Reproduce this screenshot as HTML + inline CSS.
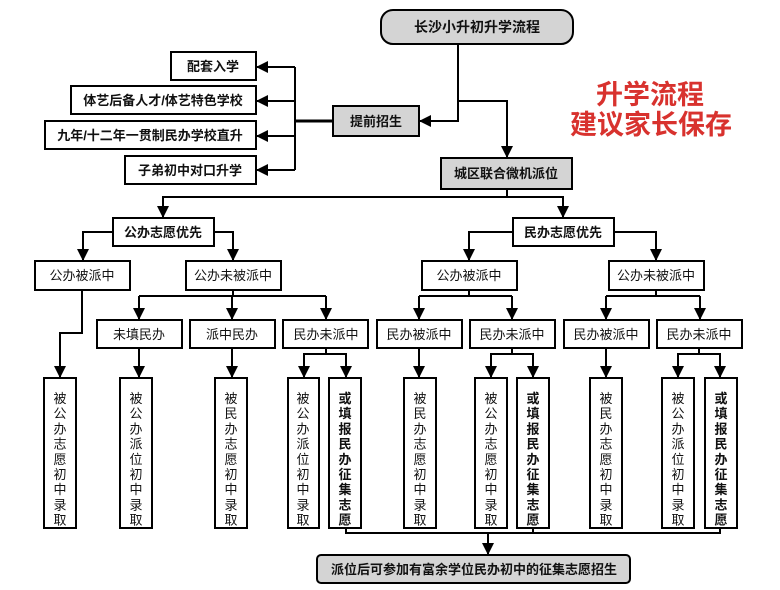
<!DOCTYPE html>
<html><head><meta charset="utf-8"><style>
html,body{margin:0;padding:0;background:#fff;}
svg{display:block;}
text{font-family:"Liberation Sans","Noto Sans CJK SC",sans-serif;fill:#111;}
</style></head><body>
<svg width="780" height="590" viewBox="0 0 780 590" xmlns="http://www.w3.org/2000/svg">
<defs>
<marker id="b" markerWidth="12" markerHeight="12" refX="11" refY="6" orient="auto" markerUnits="userSpaceOnUse">
<path d="M0,0 L12,6 L0,12 Z" fill="#000"/></marker>
</defs>
<g stroke="#000" stroke-width="2" fill="none">
<polyline points="458,44 458,121 420,121" marker-end="url(#b)"/>
<polyline points="458,101 507,101 507,157" marker-end="url(#b)"/>
<line x1="295" y1="121" x2="333" y2="121" stroke-width="3"/>
<line x1="295" y1="67" x2="295" y2="170"/>
<line x1="295" y1="67" x2="257" y2="67" marker-end="url(#b)"/>
<line x1="295" y1="101" x2="257" y2="101" marker-end="url(#b)"/>
<line x1="295" y1="136" x2="257" y2="136" marker-end="url(#b)"/>
<line x1="295" y1="170" x2="257" y2="170" marker-end="url(#b)"/>
<polyline points="507,189 507,197"/>
<polyline points="163,217 163,197 563,197 563,217"/>
<line x1="163" y1="205" x2="163" y2="217" marker-end="url(#b)"/>
<line x1="563" y1="205" x2="563" y2="217" marker-end="url(#b)"/>
<polyline points="113,232 83,232 83,260" marker-end="url(#b)"/>
<polyline points="214,232 233,232 233,260" marker-end="url(#b)"/>
<polyline points="513,232 469,232 469,260" marker-end="url(#b)"/>
<polyline points="614,232 656,232 656,260" marker-end="url(#b)"/>
<polyline points="82,290 82,333 60,333 60,377" marker-end="url(#b)"/>
<polyline points="233,290 233,296"/>
<polyline points="139,296 326,296"/>
<line x1="139" y1="296" x2="139" y2="319" marker-end="url(#b)"/>
<line x1="232" y1="296" x2="232" y2="319" marker-end="url(#b)"/>
<line x1="326" y1="296" x2="326" y2="319" marker-end="url(#b)"/>
<polyline points="469,290 469,296"/>
<polyline points="419,296 512,296"/>
<line x1="419" y1="296" x2="419" y2="319" marker-end="url(#b)"/>
<line x1="512" y1="296" x2="512" y2="319" marker-end="url(#b)"/>
<polyline points="656,290 656,296"/>
<polyline points="606,296 700,296"/>
<line x1="606" y1="296" x2="606" y2="319" marker-end="url(#b)"/>
<line x1="700" y1="296" x2="700" y2="319" marker-end="url(#b)"/>
<line x1="139" y1="348" x2="139" y2="377" marker-end="url(#b)"/>
<line x1="232" y1="348" x2="232" y2="377" marker-end="url(#b)"/>
<line x1="419" y1="348" x2="419" y2="377" marker-end="url(#b)"/>
<line x1="606" y1="348" x2="606" y2="377" marker-end="url(#b)"/>
<polyline points="326,348 326,354"/><polyline points="304,377 304,354 346,354 346,377"/>
<line x1="304" y1="362" x2="304" y2="377" marker-end="url(#b)"/>
<line x1="346" y1="362" x2="346" y2="377" marker-end="url(#b)"/>
<polyline points="512,348 512,354"/><polyline points="491,377 491,354 533,354 533,377"/>
<line x1="491" y1="362" x2="491" y2="377" marker-end="url(#b)"/>
<line x1="533" y1="362" x2="533" y2="377" marker-end="url(#b)"/>
<polyline points="699,348 699,354"/><polyline points="678,377 678,354 720,354 720,377"/>
<line x1="678" y1="362" x2="678" y2="377" marker-end="url(#b)"/>
<line x1="720" y1="362" x2="720" y2="377" marker-end="url(#b)"/>
<polyline points="346,528 346,533 720,533 720,528"/>
<line x1="533" y1="528" x2="533" y2="533"/>
<line x1="488" y1="533" x2="488" y2="554" marker-end="url(#b)"/>
</g>
<g stroke="#000" stroke-width="2">
<rect x="381" y="10" width="192" height="34" rx="12" fill="#d4d4d4"/>
<rect x="171" y="52" width="85" height="28" fill="#fff"/>
<rect x="71" y="86" width="185" height="28" fill="#fff"/>
<rect x="45" y="121" width="211" height="28" fill="#fff"/>
<rect x="125" y="156" width="131" height="28" fill="#fff"/>
<rect x="333" y="106" width="86" height="30" fill="#d4d4d4"/>
<rect x="441" y="158" width="131" height="31" fill="#d4d4d4"/>
<rect x="113" y="218" width="101" height="28" fill="#fff"/>
<rect x="513" y="218" width="101" height="28" fill="#fff"/>
<rect x="35" y="261" width="95" height="29" fill="#fff"/>
<rect x="186" y="261" width="95" height="29" fill="#fff"/>
<rect x="422" y="261" width="95" height="29" fill="#fff"/>
<rect x="609" y="261" width="95" height="29" fill="#fff"/>
<rect x="97" y="320" width="85" height="28" fill="#fff"/>
<rect x="190" y="320" width="85" height="28" fill="#fff"/>
<rect x="283" y="320" width="85" height="28" fill="#fff"/>
<rect x="377" y="320" width="85" height="28" fill="#fff"/>
<rect x="470" y="320" width="85" height="28" fill="#fff"/>
<rect x="564" y="320" width="85" height="28" fill="#fff"/>
<rect x="657" y="320" width="85" height="28" fill="#fff"/>
<rect x="44" y="378" width="32" height="150" fill="#fff"/>
<rect x="120" y="378" width="32" height="150" fill="#fff"/>
<rect x="215" y="378" width="32" height="150" fill="#fff"/>
<rect x="288" y="378" width="31" height="150" fill="#fff"/>
<rect x="329" y="378" width="32" height="150" fill="#fff"/>
<rect x="404" y="378" width="32" height="150" fill="#fff"/>
<rect x="475" y="378" width="32" height="150" fill="#fff"/>
<rect x="517" y="378" width="32" height="150" fill="#fff"/>
<rect x="590" y="378" width="32" height="150" fill="#fff"/>
<rect x="662" y="378" width="32" height="150" fill="#fff"/>
<rect x="705" y="378" width="32" height="150" fill="#fff"/>
<rect x="317" y="555" width="313" height="28" rx="4" fill="#d4d4d4"/>
</g>
<g font-size="13" text-anchor="middle" font-weight="bold">
<text x="477" y="32" font-size="14">长沙小升初升学流程</text>
<text x="213" y="71">配套入学</text>
<text x="163" y="105">体艺后备人才/体艺特色学校</text>
<text x="150" y="140">九年/十二年一贯制民办学校直升</text>
<text x="190" y="175">子弟初中对口升学</text>
<text x="376" y="126">提前招生</text>
<text x="506" y="178">城区联合微机派位</text>
<text x="163" y="237">公办志愿优先</text>
<text x="563" y="237">民办志愿优先</text>
<text x="474" y="574">派位后可参加有富余学位民办初中的征集志愿招生</text>
</g>
<g font-size="13" text-anchor="middle">
<text x="82" y="280">公办被派中</text>
<text x="233" y="280">公办未被派中</text>
<text x="469" y="280">公办被派中</text>
<text x="656" y="280">公办未被派中</text>
<text x="139" y="339">未填民办</text>
<text x="232" y="339">派中民办</text>
<text x="326" y="339">民办未派中</text>
<text x="419" y="339">民办被派中</text>
<text x="512" y="339">民办未派中</text>
<text x="606" y="339">民办被派中</text>
<text x="699" y="339">民办未派中</text>
</g>
<g font-size="13" text-anchor="middle">
<text y="403"><tspan x="60">被</tspan><tspan x="60" dy="15.2">公</tspan><tspan x="60" dy="15.2">办</tspan><tspan x="60" dy="15.2">志</tspan><tspan x="60" dy="15.2">愿</tspan><tspan x="60" dy="15.2">初</tspan><tspan x="60" dy="15.2">中</tspan><tspan x="60" dy="15.2">录</tspan><tspan x="60" dy="15.2">取</tspan></text>
<text y="403"><tspan x="136">被</tspan><tspan x="136" dy="15.2">公</tspan><tspan x="136" dy="15.2">办</tspan><tspan x="136" dy="15.2">派</tspan><tspan x="136" dy="15.2">位</tspan><tspan x="136" dy="15.2">初</tspan><tspan x="136" dy="15.2">中</tspan><tspan x="136" dy="15.2">录</tspan><tspan x="136" dy="15.2">取</tspan></text>
<text y="403"><tspan x="231">被</tspan><tspan x="231" dy="15.2">民</tspan><tspan x="231" dy="15.2">办</tspan><tspan x="231" dy="15.2">志</tspan><tspan x="231" dy="15.2">愿</tspan><tspan x="231" dy="15.2">初</tspan><tspan x="231" dy="15.2">中</tspan><tspan x="231" dy="15.2">录</tspan><tspan x="231" dy="15.2">取</tspan></text>
<text y="403"><tspan x="303">被</tspan><tspan x="303" dy="15.2">公</tspan><tspan x="303" dy="15.2">办</tspan><tspan x="303" dy="15.2">派</tspan><tspan x="303" dy="15.2">位</tspan><tspan x="303" dy="15.2">初</tspan><tspan x="303" dy="15.2">中</tspan><tspan x="303" dy="15.2">录</tspan><tspan x="303" dy="15.2">取</tspan></text>
<text y="403"><tspan x="420">被</tspan><tspan x="420" dy="15.2">民</tspan><tspan x="420" dy="15.2">办</tspan><tspan x="420" dy="15.2">志</tspan><tspan x="420" dy="15.2">愿</tspan><tspan x="420" dy="15.2">初</tspan><tspan x="420" dy="15.2">中</tspan><tspan x="420" dy="15.2">录</tspan><tspan x="420" dy="15.2">取</tspan></text>
<text y="403"><tspan x="491">被</tspan><tspan x="491" dy="15.2">公</tspan><tspan x="491" dy="15.2">办</tspan><tspan x="491" dy="15.2">志</tspan><tspan x="491" dy="15.2">愿</tspan><tspan x="491" dy="15.2">初</tspan><tspan x="491" dy="15.2">中</tspan><tspan x="491" dy="15.2">录</tspan><tspan x="491" dy="15.2">取</tspan></text>
<text y="403"><tspan x="606">被</tspan><tspan x="606" dy="15.2">民</tspan><tspan x="606" dy="15.2">办</tspan><tspan x="606" dy="15.2">志</tspan><tspan x="606" dy="15.2">愿</tspan><tspan x="606" dy="15.2">初</tspan><tspan x="606" dy="15.2">中</tspan><tspan x="606" dy="15.2">录</tspan><tspan x="606" dy="15.2">取</tspan></text>
<text y="403"><tspan x="678">被</tspan><tspan x="678" dy="15.2">公</tspan><tspan x="678" dy="15.2">办</tspan><tspan x="678" dy="15.2">派</tspan><tspan x="678" dy="15.2">位</tspan><tspan x="678" dy="15.2">初</tspan><tspan x="678" dy="15.2">中</tspan><tspan x="678" dy="15.2">录</tspan><tspan x="678" dy="15.2">取</tspan></text>
</g>
<g font-size="13" text-anchor="middle" font-weight="bold">
<text y="403"><tspan x="345">或</tspan><tspan x="345" dy="15.2">填</tspan><tspan x="345" dy="15.2">报</tspan><tspan x="345" dy="15.2">民</tspan><tspan x="345" dy="15.2">办</tspan><tspan x="345" dy="15.2">征</tspan><tspan x="345" dy="15.2">集</tspan><tspan x="345" dy="15.2">志</tspan><tspan x="345" dy="15.2">愿</tspan></text>
<text y="403"><tspan x="533">或</tspan><tspan x="533" dy="15.2">填</tspan><tspan x="533" dy="15.2">报</tspan><tspan x="533" dy="15.2">民</tspan><tspan x="533" dy="15.2">办</tspan><tspan x="533" dy="15.2">征</tspan><tspan x="533" dy="15.2">集</tspan><tspan x="533" dy="15.2">志</tspan><tspan x="533" dy="15.2">愿</tspan></text>
<text y="403"><tspan x="721">或</tspan><tspan x="721" dy="15.2">填</tspan><tspan x="721" dy="15.2">报</tspan><tspan x="721" dy="15.2">民</tspan><tspan x="721" dy="15.2">办</tspan><tspan x="721" dy="15.2">征</tspan><tspan x="721" dy="15.2">集</tspan><tspan x="721" dy="15.2">志</tspan><tspan x="721" dy="15.2">愿</tspan></text>
</g>
<g font-size="27" font-weight="bold" text-anchor="middle">
<text x="650" y="104" style="fill:#d8322e">升学流程</text>
<text x="651" y="134" style="fill:#d8322e">建议家长保存</text>
</g>
</svg>
</body></html>
